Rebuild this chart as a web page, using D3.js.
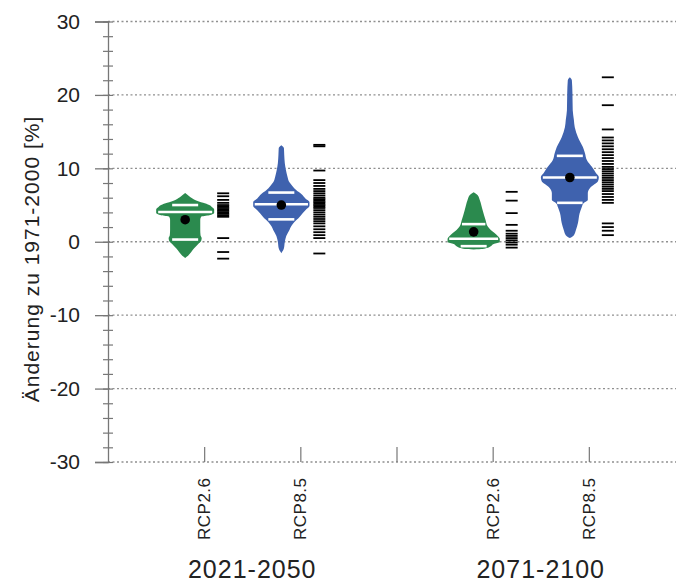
<!DOCTYPE html>
<html>
<head>
<meta charset="utf-8">
<script src="https://cdn.jsdelivr.net/npm/d3@7"></script>
<style>
  body { margin: 0; background: #fff; }
  text { font-family: "Liberation Sans", Arial, sans-serif; fill: #222; }
</style>
</head>
<body>
<div id="chart"></div>
<script>
// Data
var periods = ["2021-2050", "2071-2100"];
var scenarios = ["RCP2.6", "RCP8.5"];
var scenarioColors = ["#2b8a4e", "#3f62ae"];
var yMajorTicks = [-30, -20, -10, 0, 10, 20, 30];

// violin outlines: [change in %, relative density]
var profileRcp26Near = [[6.63,0],[6.2,.14],[5.7,.34],[5.3,.62],[5.0,.83],[4.7,.93],[4.4,1],[3.9,1],[3.6,.83],
  [3.4,.55],[3.0,.52],[1.6,.52],[0.9,.53],[0.5,.57],[0.1,.55],[-0.3,.45],[-0.9,.31],[-1.4,.21],[-1.9,.1],[-2.2,0]];
var profileRcp85Near = [[13.15,0],[12.75,.09],[11.8,.1],[10.7,.12],[9.75,.16],[8.9,.21],[8.1,.28],[7.6,.38],
  [7.0,.52],[6.5,.69],[5.9,.83],[5.4,.97],[4.86,.97],[4.3,.83],[3.8,.72],[3.2,.59],[2.7,.45],[2.1,.34],[1.6,.28],
  [0.8,.17],[0.0,.12],[-0.9,.09],[-1.55,0]];
var profileRcp26Far = [[6.75,0],[6.35,.14],[5.7,.21],[4.3,.31],[2.95,.41],[2.1,.48],[1.6,.59],[1.2,.72],
  [0.8,.83],[0.37,.9],[-0.04,.9],[-0.3,.69],[-0.6,.59],[-0.85,.45],[-1.0,.3],[-1.05,0]];
var profileRcp85Far = [[22.4,0],[22.0,.07],[20.2,.09],[17.9,.1],[16.6,.14],[15.6,.17],[14.25,.28],[12.9,.45],
  [12.1,.52],[11.1,.59],[10.2,.76],[9.35,.9],[8.8,1],[8.25,.97],[7.85,.86],[7.3,.69],[6.6,.62],[5.67,.62],
  [5.27,.48],[4.7,.41],[3.9,.34],[2.55,.28],[1.6,.21],[0.9,.14],[0.5,0]];

// white bars: lower, middle, upper
var pctRcp26Near = [0.3, 4.05, 5.0];
var pctRcp85Near = [3.05, 5.1, 6.7];
var pctRcp26Far = [-0.6, 0.4, 2.4];
var pctRcp85Far = [5.3, 8.75, 11.7];

var means = [3.0, 5.0, 1.35, 8.75];

// single model values
var rugRcp26Near = [6.6, 6.2, 5.7, 5.3, 5.0, 4.8, 4.6, 4.4, 4.2, 4.0, 3.8, 3.6, 3.4, 0.5, -1.4, -2.3];
var rugRcp85Near = [13.2, 13.0, 9.7, 8.4, 8.0, 7.6, 7.2, 6.9, 6.6, 6.3, 6.0, 5.8, 5.6, 5.4, 5.2, 5.0, 4.8,
  4.6, 4.3, 4.0, 3.7, 3.4, 3.1, 2.8, 2.5, 2.1, 1.7, 1.3, 0.9, 0.5, -1.6];
var rugRcp26Far = [6.8, 5.6, 3.9, 2.3, 1.5, 1.1, 0.8, 0.5, 0.2, -0.1, -0.4, -0.8];
var rugRcp85Far = [22.4, 18.6, 15.3, 14.2, 13.8, 13.4, 13.0, 12.6, 12.2, 11.8, 11.4, 11.0, 10.6, 10.2, 9.9,
  9.6, 9.3, 9.0, 8.7, 8.4, 8.1, 7.8, 7.5, 7.2, 6.9, 6.5, 6.1, 5.7, 5.3, 2.5, 2.0, 1.5, 0.9];

var series = [
  {period: 0, scen: 0, profile: profileRcp26Near, pct: pctRcp26Near, mean: means[0], rug: rugRcp26Near},
  {period: 0, scen: 1, profile: profileRcp85Near, pct: pctRcp85Near, mean: means[1], rug: rugRcp85Near},
  {period: 1, scen: 0, profile: profileRcp26Far, pct: pctRcp26Far, mean: means[2], rug: rugRcp26Far},
  {period: 1, scen: 1, profile: profileRcp85Far, pct: pctRcp85Far, mean: means[3], rug: rugRcp85Far}
];
// slot on the x axis: 1,2 | 4,5
series.forEach(function(d) { d.slot = d.period * 3 + d.scen + 1; });

var width = 676, height = 582;
var plotLeft = 108, plotTop = 21.5, plotBottom = 462;

var svg = d3.select("#chart").append("svg")
    .attr("width", width)
    .attr("height", height);

var x = d3.scaleLinear().domain([0, 6]).range([plotLeft, 685]);
var y = d3.scaleLinear().domain([-30, 30]).range([plotBottom, plotTop]);
var halfWidth = d3.scaleLinear().domain([0, 1]).range([0, 29]);

// gridlines (dotted), incl. top and bottom frame
svg.append("g")
    .selectAll("line")
    .data(yMajorTicks)
    .enter().append("line")
    .attr("x1", plotLeft).attr("x2", width)
    .attr("y1", function(d) { return y(d); })
    .attr("y2", function(d) { return y(d); })
    .attr("stroke", "#909090")
    .attr("stroke-width", 1.3)
    .attr("stroke-dasharray", "2,2.5");

// y axis
var yAxis = svg.append("g")
    .attr("transform", "translate(" + plotLeft + ",0)")
    .call(d3.axisLeft(y).tickValues(yMajorTicks).tickSize(13).tickPadding(15)
        .tickFormat(function(d) { return String(d); }));
yAxis.select(".domain").attr("stroke", "#777").attr("stroke-width", 1.3);
yAxis.selectAll(".tick line").attr("stroke", "#777").attr("stroke-width", 1.3);
yAxis.selectAll(".tick text").style("font-size", "21px").attr("fill", "#222");

var minor = d3.range(-30, 31, 2);
svg.append("g")
    .attr("transform", "translate(" + plotLeft + ",0)")
    .call(d3.axisLeft(y).tickValues(minor).tickSize(5).tickFormat(""))
    .call(function(g) { g.select(".domain").remove(); })
    .selectAll("line").attr("stroke", "#777").attr("stroke-width", 1.2);
svg.append("g")
    .attr("transform", "translate(" + plotLeft + ",0)")
    .call(d3.axisRight(y).tickValues(minor).tickSize(5).tickFormat(""))
    .call(function(g) { g.select(".domain").remove(); })
    .selectAll("line").attr("stroke", "#777").attr("stroke-width", 1.2);

// x axis ticks pointing up
svg.append("g")
    .attr("transform", "translate(0," + plotBottom + ")")
    .call(d3.axisTop(x).tickValues([1, 2, 3, 4, 5]).tickSize(15).tickFormat(""))
    .call(function(g) { g.select(".domain").remove(); })
    .selectAll("line").attr("stroke", "#777").attr("stroke-width", 1.2);

// scenario labels
svg.append("g")
    .selectAll("text")
    .data(series)
    .enter().append("text")
    .attr("transform", function(d) { return "translate(" + (x(d.slot) + 6) + ",540) rotate(-90)"; })
    .style("font-size", "17px")
    .style("letter-spacing", "0.5px")
    .text(function(d) { return scenarios[d.scen]; });

// period labels
svg.append("g")
    .selectAll("text")
    .data(periods)
    .enter().append("text")
    .attr("x", function(d, i) { return x(i * 3 + 1.5); })
    .attr("y", 578)
    .attr("text-anchor", "middle")
    .style("font-size", "25px")
    .style("letter-spacing", "1px")
    .text(function(d) { return d; });

// y title
svg.append("text")
    .attr("transform", "translate(39,259) rotate(-90)")
    .attr("text-anchor", "middle")
    .style("font-size", "21px")
    .style("letter-spacing", "1px")
    .text("Änderung zu 1971-2000 [%]");

// violins
var violin = svg.selectAll("g.violin")
    .data(series)
    .enter().append("g")
    .attr("class", "violin");

violin.append("path")
    .attr("fill", function(d) { return scenarioColors[d.scen]; })
    .attr("d", function(d) {
        var cx = x(d.slot) - 19;
        return d3.area()
            .y(function(p) { return y(p[0]); })
            .x0(function(p) { return cx - halfWidth(p[1]); })
            .x1(function(p) { return cx + halfWidth(p[1]); })
            .curve(d3.curveMonotoneY)(d.profile);
    });

function widthAt(profile, v) {
    var asc = profile.slice().reverse();
    var interp = d3.scaleLinear()
        .domain(asc.map(function(p) { return p[0]; }))
        .range(asc.map(function(p) { return p[1]; }));
    return halfWidth(interp(v));
}

violin.selectAll("line.pct")
    .data(function(d) {
        return d.pct.map(function(v, i) {
            var w = Math.min(i === 1 ? 27 : 13, widthAt(d.profile, v) - 1.5);
            return {v: v, cx: x(d.slot) - 19, w: w};
        });
    })
    .enter().append("line")
    .attr("class", "pct")
    .attr("x1", function(p) { return p.cx - p.w; })
    .attr("x2", function(p) { return p.cx + p.w; })
    .attr("y1", function(p) { return y(p.v); })
    .attr("y2", function(p) { return y(p.v); })
    .attr("stroke", "#fff")
    .attr("stroke-width", 2.6);

violin.append("circle")
    .attr("cx", function(d) { return x(d.slot) - 19; })
    .attr("cy", function(d) { return y(d.mean); })
    .attr("r", 4.8)
    .attr("fill", "#000");

// rug of single models
violin.selectAll("line.rug")
    .data(function(d) { return d.rug.map(function(v) { return {v: v, cx: x(d.slot) + 19}; }); })
    .enter().append("line")
    .attr("class", "rug")
    .attr("x1", function(p) { return p.cx - 6; })
    .attr("x2", function(p) { return p.cx + 6; })
    .attr("y1", function(p) { return y(p.v); })
    .attr("y2", function(p) { return y(p.v); })
    .attr("stroke", "#000")
    .attr("stroke-width", 1.8);
</script>
</body>
</html>
